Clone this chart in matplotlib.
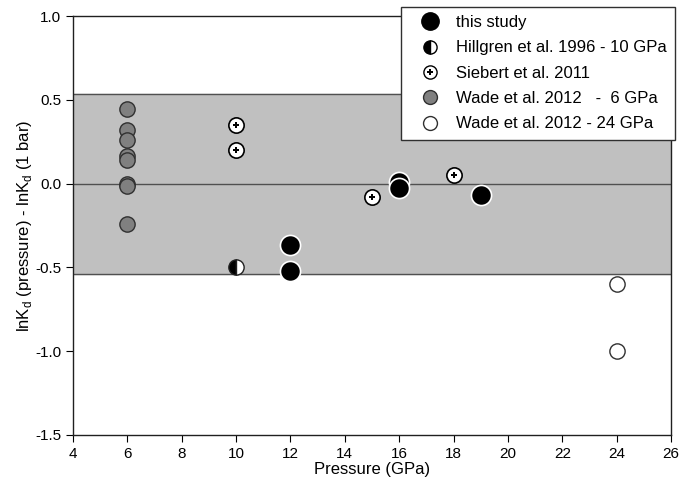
import numpy as np
import matplotlib.pyplot as plt
from matplotlib.lines import Line2D
from matplotlib.legend_handler import HandlerTuple

plt.rcParams['font.family'] = ['Liberation Sans', 'DejaVu Sans']
plt.rcParams['axes.unicode_minus'] = False

# data
this_p = [12, 12, 16, 16, 19]
this_v = [-0.365, -0.52, 0.01, -0.025, -0.07]
hill_p = [10]
hill_v = [-0.50]
sieb_p = [10, 10, 15, 18]
sieb_v = [0.35, 0.20, -0.08, 0.05]
wade6_p = [6, 6, 6, 6, 6, 6, 6, 6]
wade6_v = [0.447, 0.318, 0.258, 0.163, 0.143, 0.0, -0.016, -0.243]
wade24_p = [24, 24]
wade24_v = [-0.6, -1.0]
band_top = 0.534
band_bottom = -0.542

fig = plt.figure(figsize=(6.94, 4.86), dpi=100)
ax = fig.add_axes([0.105, 0.105, 0.862, 0.862])

ax.axhspan(band_bottom, band_top, color='#c0c0c0', zorder=0)
ax.axhline(band_top, color='#505050', lw=1, zorder=1)
ax.axhline(band_bottom, color='#505050', lw=1, zorder=1)
ax.axhline(0, color='#505050', lw=1, zorder=1)

ax.plot(wade6_p, wade6_v, 'o', ms=11, mfc='#808080', mec='#303030', mew=1, zorder=3)
ax.plot(wade24_p, wade24_v, 'o', ms=11, mfc='white', mec='#303030', mew=1, zorder=3)
ax.plot(hill_p, hill_v, 'o', ms=11, mfc='black', mfcalt='white', fillstyle='left',
        mec='#202020', mew=1, zorder=3)
ax.plot(sieb_p, sieb_v, 'o', ms=11, mfc='white', mec='black', mew=1.2, zorder=3)
ax.plot(sieb_p, sieb_v, 'P', ms=5, mfc='black', mec='black', mew=0, zorder=4)
ax.plot(this_p, this_v, 'o', ms=14.5, mfc='black', mec='white', mew=1.2, zorder=5)

ax.set_xlim(4, 26)
ax.set_ylim(-1.5, 1.0)
ax.set_xticks(np.arange(4, 27, 2))
ax.set_yticks(np.arange(-1.5, 1.01, 0.5))
ax.yaxis.set_major_formatter(plt.FormatStrFormatter('%.1f'))
ax.tick_params(direction='out', length=5, labelsize=11, colors='black')
for s in ax.spines.values():
    s.set_linewidth(1)
    s.set_color('#202020')

ax.set_xlabel('Pressure (GPa)', fontsize=12, labelpad=1)
ax.set_ylabel('lnK$_\\mathregular{d}$ (pressure) - lnK$_\\mathregular{d}$ (1 bar)',
              fontsize=12, labelpad=1)

h_this = Line2D([], [], ls='none', marker='o', ms=12.5, mfc='black', mec='black')
h_hill = Line2D([], [], ls='none', marker='o', ms=9.5, mfc='black', mfcalt='white',
                fillstyle='left', mec='black', mew=1)
h_sieb_c = Line2D([], [], ls='none', marker='o', ms=9.5, mfc='white', mec='black', mew=1)
h_sieb_p = Line2D([], [], ls='none', marker='P', ms=4.5, mfc='black', mec='black', mew=0)
h_w6 = Line2D([], [], ls='none', marker='o', ms=10, mfc='#808080', mec='#303030')
h_w24 = Line2D([], [], ls='none', marker='o', ms=10, mfc='white', mec='#303030')

leg = fig.legend([h_this, h_hill, (h_sieb_c, h_sieb_p), h_w6, h_w24],
                 ['this study', 'Hillgren et al. 1996 - 10 GPa', 'Siebert et al. 2011',
                  'Wade et al. 2012   -  6 GPa', 'Wade et al. 2012 - 24 GPa'],
                 handler_map={tuple: HandlerTuple(ndivide=1)},
                 loc='upper right', bbox_to_anchor=(0.973, 0.986),
                 fontsize=12, frameon=True, fancybox=False, edgecolor='#303030',
                 framealpha=1, borderpad=0.5, labelspacing=0.62, handletextpad=0.3,
                 handlelength=2.5, borderaxespad=0)
leg.get_frame().set_linewidth(1)

fig.savefig('out.png', dpi=100)
